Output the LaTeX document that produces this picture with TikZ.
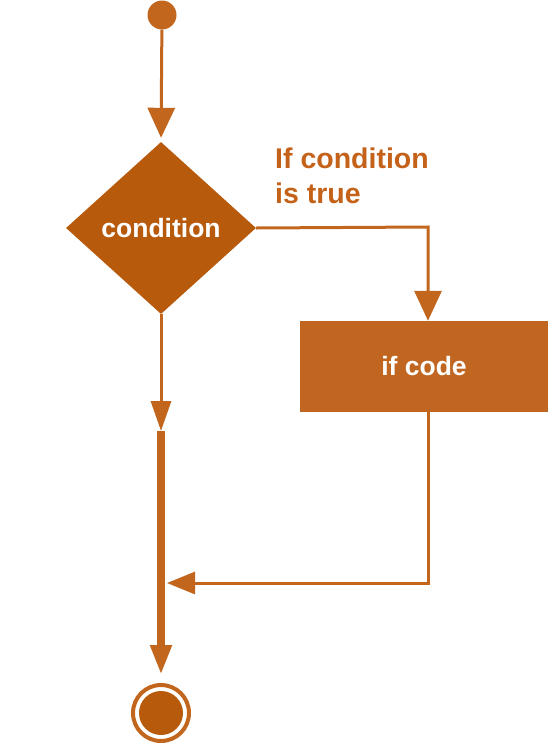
\documentclass[tikz,border=0pt]{standalone}
\usepackage{fontspec}
\setmainfont{Liberation Sans}
\usetikzlibrary{shapes.geometric,arrows.meta}
\definecolor{dia}{RGB}{184,90,12}
\definecolor{boxc}{RGB}{192,102,32}
\definecolor{linec}{RGB}{194,102,30}
\definecolor{txt}{RGB}{196,98,26}
\begin{document}
\begin{tikzpicture}[x=1pt,y=-1pt,
  conn/.style={draw=linec,line width=3pt},
  tipbig/.style={-{Triangle[length=30pt,width=27pt]}},
  tipmid/.style={-{Triangle[length=28pt,width=22pt]}},
  lbl/.style={font=\fontsize{26.5}{34}\selectfont\bfseries},
  toplbl/.style={font=\fontsize{28.5}{35}\selectfont\bfseries},
  every node/.style={inner sep=0pt}]
\useasboundingbox (0,0) rectangle (550,747);
\node[circle,fill=linec,minimum size=29pt] (start) at (162,15) {};
\node[diamond,fill=dia,minimum width=190pt,minimum height=172pt,text=white,lbl] (cond) at (161,228) {condition};
\node[rectangle,fill=boxc,minimum width=248pt,minimum height=91pt,text=white,lbl] (ifcode) at (424,366.5) {if code};
\node[circle,draw=linec,line width=4pt,minimum size=56pt] (end) at (161,713) {};
\node[circle,fill=dia,minimum size=44pt] (endin) at (161,713) {};
\node[toplbl,text=txt,align=left,anchor=north west] (lab) at (275,148) {If condition\\is true};
\coordinate (c1) at (428,227);
\coordinate (b1) at (428,583);
\coordinate (j) at (161,583);
\coordinate (m) at (161,431);
\draw[conn,tipbig,shorten >=4pt] (start) -- (cond.north);
\draw[conn,tipbig] (cond.east) -- (c1) -- (ifcode.north -| c1);
\draw[conn,tipmid] (ifcode.south -| b1) -- (b1) -- ([xshift=6pt]j);
\draw[conn,-{Triangle[length=30pt,width=20pt]}] (cond.south) -- (m);
\draw[draw=linec,line width=8pt,-{Triangle[length=30pt,width=20pt]},shorten >=8pt] (m) -- (end.north);
\end{tikzpicture}
\end{document}
